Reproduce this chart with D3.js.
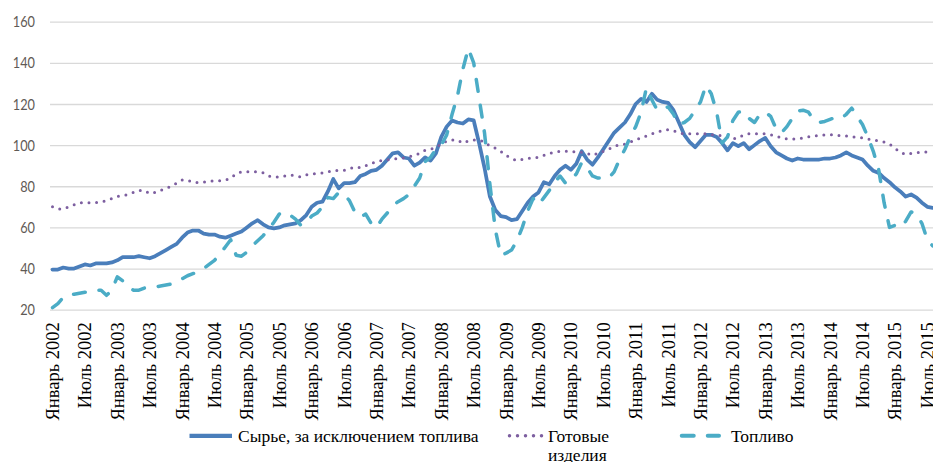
<!DOCTYPE html>
<html lang="ru">
<head>
<meta charset="UTF-8">
<title>Индексы цен на сырьё, топливо и готовые изделия</title>
<script src="https://cdnjs.cloudflare.com/ajax/libs/d3/7.8.5/d3.min.js"></script>
<style>
  body { margin: 0; background: #fff; }
  svg { display: block; }
</style>
</head>
<body>
<svg id="chart"></svg>
<script>
// monthly index values, Jan 2002 .. Aug 2015
const rawMaterials = [
  39.5, 39.5, 40.5, 40, 40, 41, 42, 41.5, 42.5, 42.5, 42.5, 43,
  44, 45.5, 45.5, 45.5, 46, 45.5, 45, 46, 47.5, 49, 50.5, 52,
  55, 57.5, 58.5, 58.5, 57, 56.5, 56.5, 55.5, 55, 56, 57, 58,
  60, 62, 63.5, 61.5, 60, 59.5, 60, 61, 61.5, 62, 63.5, 66,
  70, 72, 72.5, 77.5, 83.5, 79, 81.5, 81.5, 82, 85, 86, 87.5,
  88, 90, 93, 96, 96.5, 94, 93.5, 90, 91.5, 94, 92.5, 96,
  104, 109, 112, 111, 110.5, 112.5, 112, 101, 89, 75, 68.5, 65.5,
  65, 63.5, 64, 68, 72, 75, 77, 82, 81, 85, 88, 90,
  88, 91, 97, 93, 90.5, 94, 98, 102, 106, 108.5, 111, 115,
  120, 122.5, 121, 125, 122, 121, 120.5, 117, 111, 105, 101.5, 99,
  102, 105, 105, 104, 101, 97.5, 101, 99.5, 101, 98, 100, 102,
  103.5, 99.5, 96.5, 95, 93.5, 92.5, 93.5, 93, 93, 93, 93, 93.5,
  93.5, 94, 95, 96.5, 95, 94, 93, 90, 87.5, 86.5, 84, 82,
  79.5, 77.5, 75, 76, 74.5, 72, 70, 69.5
];
const finishedGoods = [
  70, 69, 69, 70, 71, 72, 72, 72, 72, 72.5, 73, 74,
  75, 75.5, 76, 77, 78, 78, 76.5, 77, 78, 79, 80, 81.5,
  83, 83, 82, 81.7, 82, 82.5, 82.7, 82.7, 83, 84, 86, 87,
  87, 87, 87, 86.5, 85, 84.5, 84.5, 85, 85.5, 85, 84.5, 85.5,
  86, 86.2, 86.5, 87, 87.7, 87.7, 87.7, 88.5, 89.3, 89, 90, 91,
  92, 92.5, 92.8, 93.2, 93.5, 93.8, 94.3, 95, 96, 97.5, 98, 99,
  100.5, 102, 102.5, 102.5, 101, 102, 102.5, 102.5, 101.5, 99.5, 98.5, 97,
  95, 93.5, 92.5, 93, 93.5, 94, 94, 95, 96, 96.5, 97, 97,
  97, 96.5, 96.5, 96, 95, 96, 97, 98, 99.5, 100, 100.5, 101.5,
  102.5, 103.5, 104.5, 105.5, 106.5, 107, 107.5, 107, 106, 105.5, 105.5, 105.5,
  105.5, 105.5, 105, 105, 104.5, 104, 103, 103.5, 105, 105.5, 105.5, 105.5,
  105.5, 105, 104.5, 103.5, 103, 103, 103, 103.5, 104, 104.5, 104.5, 105,
  105, 105, 104.5, 104.5, 104, 104, 103.5, 103, 102.5, 102, 101.5, 100.5,
  98.5, 96.5, 95.5, 96, 96.3, 96.5, 96.8, 97
];
const fuel = [
  21, 23, 26, 27.5, 27.5, 28, 28.5, 28.5, 29.5, 29.5, 27, 29.5,
  36, 34, 31, 29.5, 29.5, 30.5, 31, 31, 31.5, 32, 32.5, 33.5,
  35, 36.5, 37.5, 38.5, 40, 42, 44, 47, 50.5, 54, 46.5, 46,
  48, 51, 53.5, 56, 59, 62.5, 66.5, 67.5, 66, 64, 61, 62.5,
  65.5, 67, 70, 74.5, 74, 77, 76, 73, 67.5, 65, 66.5, 62,
  60, 64, 67, 70.5, 72.5, 74, 76, 80, 84, 92, 94, 98,
  100, 105, 115, 124, 137, 147, 140, 123, 106, 81, 59, 46.5,
  47.5, 49, 53.5, 60, 68, 74, 71, 74.5, 78, 82, 85, 81.5,
  83, 86, 91.5, 89, 85, 84, 84, 84, 87, 93, 98, 104,
  109, 116, 128, 122, 117, 118, 118.5, 115, 110, 111, 113, 117,
  121, 129, 125, 116, 101, 104, 112, 116, 116.5, 113, 111, 115,
  116, 114, 108, 106, 109, 113, 116.5, 117, 116, 112, 111, 111.5,
  112.5, 113.5, 113, 115, 118, 114, 110, 104, 97, 88, 72, 60,
  61, 60, 63, 67.5, 66.5, 62, 54, 51
];
const tickLabels = [
  'Январь 2002', 'Июль 2002', 'Январь 2003', 'Июль 2003', 'Январь 2004', 'Июль 2004',
  'Январь 2005', 'Июль 2005', 'Январь 2006', 'Июль 2006', 'Январь 2007', 'Июль 2007',
  'Январь 2008', 'Июль 2008', 'Январь 2009', 'Июль 2009', 'Январь 2010', 'Июль 2010',
  'Январь 2011', 'Июль 2011', 'Январь 2012', 'Июль 2012', 'Январь 2013', 'Июль 2013',
  'Январь 2014', 'Июль 2014', 'Январь 2015', 'Июль 2015'
];
const yTicks = [20, 40, 60, 80, 100, 120, 140, 160];
const seriesNames = ['Сырье, за исключением топлива', 'Готовые изделия', 'Топливо'];

const width = 933, height = 462;
const plotLeft = 50, plotTop = 21.7, plotBottom = 309.7;
const serif = "'Liberation Serif', 'Times New Roman', serif";

const svg = d3.select('#chart').attr('width', width).attr('height', height);

const x = d3.scaleLinear()
  .domain([0, rawMaterials.length - 1])
  .range([52.5, 52.5 + 5.4 * (rawMaterials.length - 1)]);
const y = d3.scaleLinear().domain([20, 160]).range([plotBottom, plotTop]);

// grid + left labels
const yAxis = d3.axisLeft(y).tickValues(yTicks).tickSize(-(width - plotLeft)).tickPadding(15);
svg.append('g')
  .attr('transform', `translate(${plotLeft},0)`)
  .call(yAxis)
  .call(g => g.select('.domain').remove())
  .call(g => g.selectAll('line').attr('stroke', '#d9d9d9').attr('stroke-width', 1.3))
  .call(g => g.selectAll('text')
    .attr('fill', '#5f5a55')
    .attr('textLength', d => String(d).length * 7.4)
    .attr('lengthAdjust', 'spacingAndGlyphs')
    .style('font', '16px Lato'));

// month labels, rotated
const xAxis = d3.axisBottom(x)
  .tickValues(tickLabels.map((_, i) => i * 6))
  .tickSize(0)
  .tickFormat(d => tickLabels[d / 6]);
svg.append('g')
  .attr('transform', `translate(0,${plotBottom})`)
  .call(xAxis)
  .call(g => g.select('.domain').remove())
  .call(g => g.selectAll('text')
    .attr('transform', 'rotate(-90)')
    .attr('text-anchor', 'end')
    .attr('x', -12.5)
    .attr('y', 6)
    .attr('dy', 0)
    .attr('fill', '#000')
    .style('font-family', serif)
    .style('font-size', '18.5px'));

const styles = [
  { color: '#4a7ebb', width: 3.75, dash: null },
  { color: '#7d5fa0', width: 3, dash: '0,7.6' },
  { color: '#4bacc6', width: 3.5, dash: '12,14' }
];
const series = [rawMaterials, finishedGoods, fuel];

const line = d3.line().x((d, i) => x(i)).y(d => y(d));

series.forEach((s, k) => {
  svg.append('path')
    .datum(s)
    .attr('fill', 'none')
    .attr('stroke', styles[k].color)
    .attr('stroke-width', styles[k].width)
    .attr('stroke-linejoin', 'round')
    .attr('stroke-linecap', 'round')
    .attr('stroke-dasharray', styles[k].dash)
    .attr('d', line);
});

// legend
const legendItems = [
  { x1: 189.5, x2: 232, tx: 238, lines: [seriesNames[0]] },
  { x1: 509.5, x2: 542, tx: 548, lines: ['Готовые', 'изделия'] },
  { x1: 681.75, x2: 719, tx: 731, lines: [seriesNames[2]] }
];
const legend = svg.append('g');
legendItems.forEach((it, k) => {
  legend.append('line')
    .attr('x1', it.x1).attr('x2', it.x2)
    .attr('y1', 435.8).attr('y2', 435.8)
    .attr('stroke', styles[k].color)
    .attr('stroke-width', styles[k].width + 0.5)
    .attr('stroke-linecap', k === 0 ? 'butt' : 'round')
    .attr('stroke-dasharray', k === 1 ? '0,8' : styles[k].dash);
  const t = legend.append('text')
    .attr('x', it.tx).attr('y', 441.5)
    .attr('fill', '#000')
    .style('font-family', serif)
    .style('font-size', '17.5px');
  it.lines.forEach((ln, j) => {
    t.append('tspan').attr('x', it.tx).attr('dy', j === 0 ? 0 : 19).text(ln);
  });
});
</script>
</body>
</html>
